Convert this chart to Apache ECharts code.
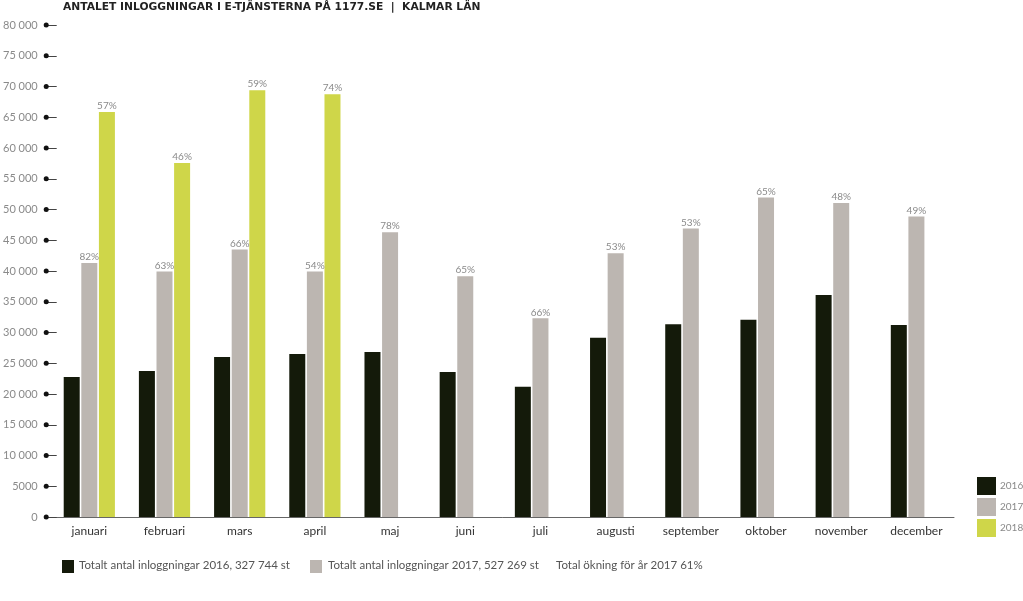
<!DOCTYPE html>
<html>
<head>
<meta charset="utf-8">
<script src="https://cdn.jsdelivr.net/npm/echarts@6/dist/echarts.min.js"></script>
<style>html,body{margin:0;padding:0;background:#fff;}#c{width:1023px;height:601px;}</style>
</head>
<body>
<div id="c"></div>
<script>
const titleText = 'ANTALET INLOGGNINGAR I E-TJÄNSTERNA PÅ 1177.SE  |  KALMAR LÄN';
const months = ['januari','februari','mars','april','maj','juni','juli','augusti','september','oktober','november','december'];
const seriesNames = ['2016','2017','2018'];
const values2016 = [22760, 23740, 26000, 26500, 26830, 23580, 21190, 29150, 31330, 32080, 36100, 31220];
const values2017 = [41300, 39900, 43500, 39900, 46300, 39150, 32300, 42900, 46900, 51950, 51050, 48850];
const values2018 = [65850, 57550, 69400, 68750, null, null, null, null, null, null, null, null];
const pct2017 = ['82%','63%','66%','54%','78%','65%','66%','53%','53%','65%','48%','49%'];
const pct2018 = ['57%','46%','59%','74%'];
const yMin = 0, yMax = 80000, yStep = 5000;
const footerTexts = ['Totalt antal inloggningar 2016, 327 744 st','Totalt antal inloggningar 2017, 527 269 st','Total ökning för år 2017 61%'];

const colors = ['#141a0a', '#bcb6b1', '#cfd649'];
const fontFam = 'Lato, "Open Sans", sans-serif';

function fmt(v){
  if (v >= 10000) { const s = String(v); return s.slice(0, s.length-3) + ' ' + s.slice(-3); }
  return String(v);
}

const chart = echarts.init(document.getElementById('c'), null, {renderer:'canvas'});
const labelStyle = {show:true, position:'top', distance:1, color:'#8a8a8a', fontSize:10, fontFamily:fontFam};

chart.setOption({
  animation:false,
  backgroundColor:'#fff',
  title:{
    text:titleText, left:63, top:2, padding:0,
    textStyle:{fontFamily:'"DejaVu Sans", sans-serif', fontWeight:'bold', fontSize:10.7, color:'#222'}
  },
  grid:{left:49, right:69, top:25, bottom:84},
  legend:{
    data:seriesNames, orient:'vertical', left:977, top:477, padding:0,
    itemWidth:19, itemHeight:18, itemGap:3, icon:'rect',
    textStyle:{color:'#8a8a8a', fontSize:10, fontFamily:fontFam, padding:[0,0,0,-1]}
  },
  xAxis:{
    type:'category', data:months,
    axisLine:{show:true, lineStyle:{color:'#666', width:1}},
    axisTick:{show:false},
    axisLabel:{color:'#333', fontSize:12, margin:8, fontFamily:fontFam, interval:0}
  },
  yAxis:{
    type:'value', min:yMin, max:yMax, interval:yStep, offset:6,
    axisLine:{show:false},
    axisTick:{show:true, inside:true, length:11, lineStyle:{color:'#444', width:1}},
    splitLine:{show:false},
    axisLabel:{
      margin:-3, fontFamily:fontFam,
      formatter:function(v){ return '{v|' + fmt(v) + '}{d|\u00a0}'; },
      rich:{
        v:{color:'#8a8a8a', fontSize:11, fontFamily:fontFam, padding:[0,6,0,0]},
        d:{width:5, height:5, backgroundColor:'#111', borderRadius:2.5, fontSize:4}
      }
    }
  },
  series:[
    {name:seriesNames[0], type:'bar', data:values2016, barWidth:16, barGap:'10%', itemStyle:{color:colors[0]}},
    {name:seriesNames[1], type:'bar', data:values2017, barWidth:16, barGap:'10%', itemStyle:{color:colors[1]},
      label:Object.assign({}, labelStyle, {formatter:function(p){return pct2017[p.dataIndex];}})},
    {name:seriesNames[2], type:'bar', data:values2018, barWidth:16, barGap:'10%', itemStyle:{color:colors[2]},
      label:Object.assign({}, labelStyle, {formatter:function(p){return pct2018[p.dataIndex] || '';}})}
  ],
  graphic:[
    {type:'rect', left:62, top:560, shape:{width:12, height:13}, style:{fill:colors[0]}},
    {type:'text', left:79, top:559, style:{text:footerTexts[0], fill:'#555', fontSize:11.5, fontFamily:fontFam}},
    {type:'rect', left:310, top:560, shape:{width:12, height:13}, style:{fill:colors[1]}},
    {type:'text', left:328, top:559, style:{text:footerTexts[1], fill:'#555', fontSize:11.5, fontFamily:fontFam}},
    {type:'text', left:556, top:559, style:{text:footerTexts[2], fill:'#555', fontSize:11.5, fontFamily:fontFam}}
  ]
});
</script>
</body>
</html>
